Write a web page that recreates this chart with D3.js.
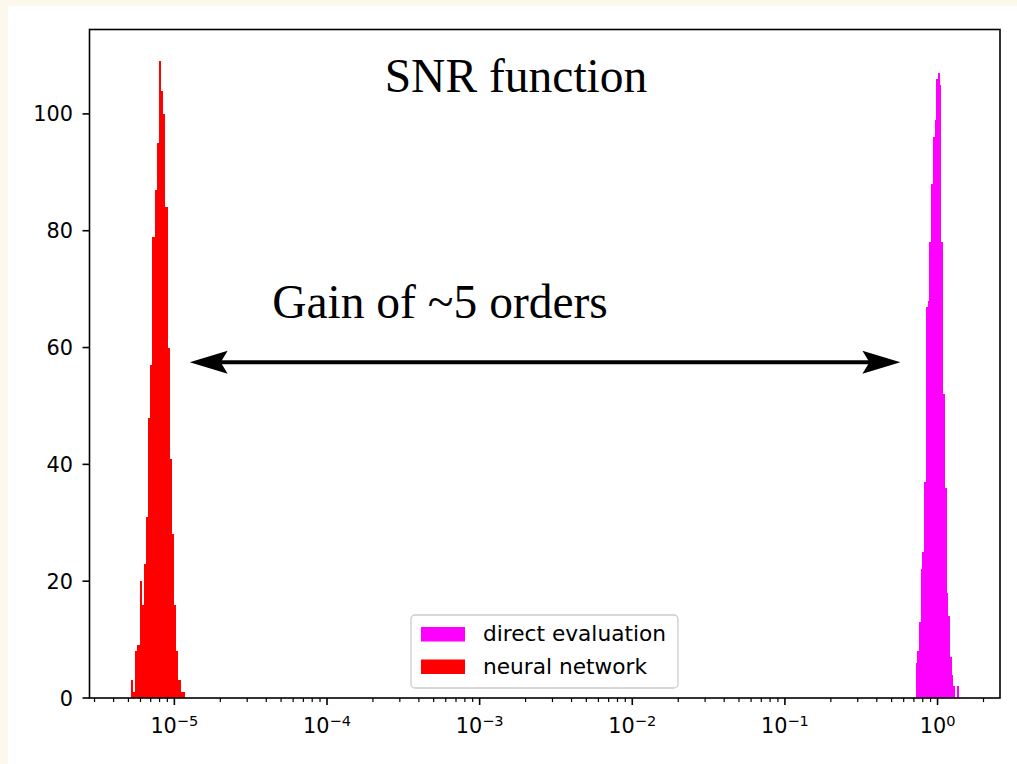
<!DOCTYPE html>
<html>
<head>
<meta charset="utf-8">
<script src="https://cdn.jsdelivr.net/npm/d3@7"></script>
<style>
  body { margin: 0; background: #fcf8ee; }
  svg { display: block; }
</style>
</head>
<body>
<svg id="chart" width="1017" height="764"></svg>
<script>
// Histogram of SNR values: direct evaluation vs neural network (log-spaced bins)
const seriesNames = ["direct evaluation", "neural network"];
const seriesColors = ["#ff00ff", "#ff0000"];

// bin range [lowest edge, highest edge] of each histogram
const directRange = [0.718, 1.374];
const neuralRange = [5.19e-6, 1.172e-5];

// counts per bin, left to right
const directCounts = [6, 8, 13, 22, 25, 37, 67, 68, 78, 88, 96, 99, 106, 107, 105, 78, 52, 36, 18, 14, 7, 4, 2, 0, 2];
const neuralCounts = [3, 1, 8, 9, 20, 16, 23, 31, 48, 57, 79, 87, 95, 109, 104, 100, 84, 60, 41, 28, 16, 8, 3, 1, 1];

const xMajorTicks = [1e-5, 1e-4, 1e-3, 1e-2, 1e-1, 1e0];
const xTickExponents = ["\u22125", "\u22124", "\u22123", "\u22122", "\u22121", "0"];
const yTicks = [0, 20, 40, 60, 80, 100];

const titleText = "SNR function";
const gainText = "Gain of ~5 orders";

// layout
const W = 1017, H = 764;
const plot = { left: 89.5, right: 1000, top: 29.5, bottom: 698 };

const svg = d3.select("#chart");
svg.append("rect").attr("x", 8).attr("y", 6).attr("width", W - 8).attr("height", H - 6).attr("fill", "#ffffff");

// log-spaced bin edges between the histogram's range
function logEdges(range, n) {
  const a = Math.log10(range[0]), b = Math.log10(range[1]);
  return d3.range(n + 1).map(i => Math.pow(10, a + (b - a) * i / n));
}
function toBins(range, counts) {
  const e = logEdges(range, counts.length);
  return counts.map((c, i) => ({ x0: e[i], x1: e[i + 1], count: c }));
}
const directBins = toBins(directRange, directCounts);
const neuralBins = toBins(neuralRange, neuralCounts);

// 5% margins in log space, like the default autoscale
const lo = Math.log10(neuralRange[0]), hi = Math.log10(directRange[1]);
const pad = 0.05 * (hi - lo);
const x = d3.scaleLog()
  .domain([Math.pow(10, lo - pad), Math.pow(10, hi + pad)])
  .range([plot.left, plot.right]);
const yMax = d3.max(directCounts.concat(neuralCounts)) * 1.05;
const y = d3.scaleLinear().domain([0, yMax]).range([plot.bottom, plot.top]);

const g = svg.append("g");

// bars
[[directBins, seriesColors[0]], [neuralBins, seriesColors[1]]].forEach(([bins, col]) => {
  g.append("g").attr("shape-rendering", "crispEdges")
    .selectAll("rect").data(bins.filter(d => d.count > 0)).join("rect")
    .attr("x", d => x(d.x0))
    .attr("width", d => x(d.x1) - x(d.x0))
    .attr("y", d => y(d.count))
    .attr("height", d => y(0) - y(d.count))
    .attr("fill", col);
});

// axis frame
g.append("rect")
  .attr("x", plot.left).attr("y", plot.top)
  .attr("width", plot.right - plot.left).attr("height", plot.bottom - plot.top)
  .attr("fill", "none").attr("stroke", "#000").attr("stroke-width", 1.6);

const tickFont = "'DejaVu Sans', sans-serif";
const tickSize = 20.8;

// x major ticks + labels (10^n)
const dom = x.domain();
xMajorTicks.forEach((v, i) => {
  const px = x(v);
  g.append("line").attr("x1", px).attr("x2", px).attr("y1", plot.bottom).attr("y2", plot.bottom + 7)
    .attr("stroke", "#000").attr("stroke-width", 1.6);
  const t = g.append("text").attr("x", px).attr("y", 733)
    .attr("text-anchor", "middle").attr("font-family", tickFont).attr("font-size", tickSize).attr("fill", "#000");
  t.append("tspan").text("10");
  t.append("tspan").attr("dy", -7.5).attr("font-size", tickSize * 0.7).text(xTickExponents[i]);
});

// x minor ticks (2..9 per decade)
const d0 = Math.floor(Math.log10(dom[0])), d1 = Math.ceil(Math.log10(dom[1]));
for (let d = d0; d <= d1; d++) {
  for (let k = 2; k <= 9; k++) {
    const v = k * Math.pow(10, d);
    if (v < dom[0] || v > dom[1]) continue;
    const px = x(v);
    g.append("line").attr("x1", px).attr("x2", px).attr("y1", plot.bottom).attr("y2", plot.bottom + 4)
      .attr("stroke", "#000").attr("stroke-width", 1.2);
  }
}

// y ticks + labels
yTicks.forEach(v => {
  const py = y(v);
  g.append("line").attr("x1", plot.left - 7).attr("x2", plot.left).attr("y1", py).attr("y2", py)
    .attr("stroke", "#000").attr("stroke-width", 1.6);
  g.append("text").attr("x", plot.left - 16.5).attr("y", py + 7.5)
    .attr("text-anchor", "end").attr("font-family", tickFont).attr("font-size", tickSize).attr("fill", "#000")
    .text(v);
});

// title and annotation
const serif = "'Liberation Serif', 'Times New Roman', serif";
g.append("text").attr("x", 516).attr("y", 92).attr("text-anchor", "middle")
  .attr("font-family", serif).attr("font-size", 47.5).attr("fill", "#000").text(titleText);
g.append("text").attr("x", 440).attr("y", 318).attr("text-anchor", "middle")
  .attr("font-family", serif).attr("font-size", 47.5).attr("fill", "#000").text(gainText);

// double-headed arrow spanning the gap between the two distributions
const arrowY = y(57.5);
const ax0 = x(1.26e-5), ax1 = x(0.571);
const headLen = 38, headHalf = 11.5, notch = 31;
g.append("line").attr("x1", ax0 + notch - 2).attr("x2", ax1 - notch + 2).attr("y1", arrowY).attr("y2", arrowY)
  .attr("stroke", "#000").attr("stroke-width", 4);
function head(tipX, dir) {
  const p = d3.path();
  p.moveTo(tipX, arrowY);
  p.lineTo(tipX + dir * headLen, arrowY - headHalf);
  p.lineTo(tipX + dir * notch, arrowY);
  p.lineTo(tipX + dir * headLen, arrowY + headHalf);
  p.closePath();
  g.append("path").attr("d", p.toString()).attr("fill", "#000");
}
head(ax0, 1);
head(ax1, -1);

// legend
const legendSize = 21.7;
const lg = g.append("g").attr("transform", "translate(411,615)");
lg.append("rect").attr("width", 267).attr("height", 73).attr("rx", 4)
  .attr("fill", "#fff").attr("fill-opacity", 0.8).attr("stroke", "#cccccc").attr("stroke-width", 1.3);
seriesNames.forEach((name, i) => {
  const yy = 12 + i * 32.5;
  lg.append("rect").attr("x", 10).attr("y", yy).attr("width", 44).attr("height", 14.5).attr("fill", seriesColors[i]);
  lg.append("text").attr("x", 72).attr("y", yy + 14).attr("font-family", tickFont).attr("font-size", legendSize)
    .attr("fill", "#000").text(name);
});
</script>
</body>
</html>
